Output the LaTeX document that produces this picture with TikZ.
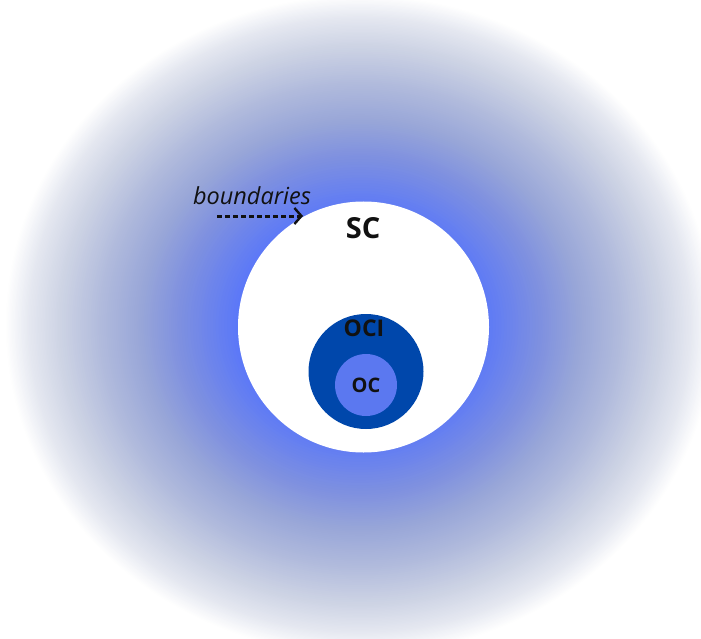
\documentclass[tikz,border=0pt]{standalone}
\usepackage{fontspec}
\setmainfont{Open Sans}
\usetikzlibrary{arrows.meta}
\definecolor{bright}{HTML}{5B78F8}
\definecolor{cA}{HTML}{7E90E0}
\definecolor{cB}{HTML}{98A6D8}
\definecolor{cC}{HTML}{B0BADC}
\definecolor{cD}{HTML}{CDD3E4}
\definecolor{cE}{HTML}{E4E7F0}
\definecolor{ociblue}{HTML}{0047AB}
\definecolor{ocblue}{HTML}{5B78F0}
\definecolor{ink}{HTML}{111111}
\tikzset{
  disc/.style={circle, inner sep=0pt},
  biglbl/.style={text=ink, font=\fontsize{29}{29}\selectfont\bfseries, inner sep=0pt},
  midlbl/.style={text=ink, font=\fontsize{23}{23}\selectfont\bfseries, inner sep=0pt},
  smalllbl/.style={text=ink, font=\fontsize{20}{20}\selectfont\bfseries, inner sep=0pt},
  note/.style={text=ink, font=\fontsize{23.5}{23.5}\selectfont\itshape, inner sep=0pt},
  dasharrow/.style={draw=ink, line width=3pt, dash pattern=on 5pt off 3pt, -{Straight Barb[length=7pt,width=16pt,line width=2.4pt]}}
}
\begin{document}
\begin{tikzpicture}[x=1pt,y=-1pt]
\useasboundingbox (0,0) rectangle (701,639);
\begin{scope}
  \clip (0,0) rectangle (701,639);
  \fill[white] (0,0) rectangle (701,639);
  \foreach \a/\b/\ca/\cb in {1.00/0.93/white/cE, 0.93/0.845/cE/cD, 0.845/0.73/cD/cC, 0.73/0.62/cC/cB, 0.62/0.51/cB/cA, 0.51/0.35/cA/bright} {
    \foreach \j in {0,...,19} {
      \pgfmathsetmacro\t{\a-(\a-\b)*\j/20}
      \pgfmathsetmacro\p{100*\j/20}
      \fill[\cb!\p!\ca] (360,325) ellipse [x radius=355*\t, y radius=330*\t];
    }
  }
  \fill[bright] (360,325) ellipse [x radius=355*0.35, y radius=330*0.35];
\end{scope}
\node[disc, fill=white, minimum size=251pt] (sc) at (363.5,327) {};
\node[disc, fill=ociblue, minimum size=115pt] (oci) at (366,371.5) {};
\node[disc, fill=ocblue, minimum size=62pt, smalllbl] (oc) at (366,385) {OC};
\node[biglbl] (sclbl) at (363,228) {SC};
\node[midlbl] (ocilbl) at (364,328) {OCI};
\node[note] (bnd) at (252,196) {boundaries};
\coordinate (a0) at (217,216);
\coordinate (a1) at (303,216);
\draw[dasharrow] (a0) -- (a1);
\end{tikzpicture}
\end{document}
